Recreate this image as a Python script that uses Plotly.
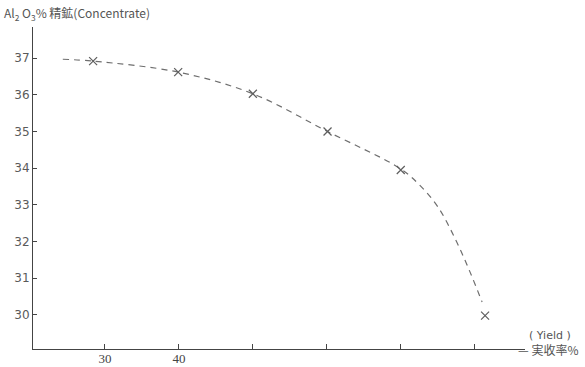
import plotly.graph_objects as go

# Data
yield_pct = [28.4, 39.9, 50.0, 60.1, 70.0, 81.4]
al2o3_pct = [36.92, 36.62, 36.03, 35.0, 33.95, 29.98]

# dashed curve as drawn
curve_x = [24.3, 28.4, 39.9, 50.0, 60.1, 70.0, 72.5, 75.0, 77.3, 79.3, 81.0]
curve_y = [36.97, 36.92, 36.62, 36.03, 35.0, 33.98, 33.55, 32.95, 32.1, 31.2, 30.35]

x_tickvals = [30, 40, 50, 60, 70, 80]
x_ticktext = ["30", "40", "", "", "", ""]
y_tickvals = [30, 31, 32, 33, 34, 35, 36, 37]

gray = "#5a5a5a"

fig = go.Figure()
fig.add_trace(go.Scatter(
    x=curve_x, y=curve_y, mode="lines",
    line=dict(color="#6e6e6e", width=1.2, dash="6px,5px", shape="spline", smoothing=1.0),
    hoverinfo="skip", showlegend=False))
fig.add_trace(go.Scatter(
    x=yield_pct, y=al2o3_pct, mode="markers",
    marker=dict(symbol="x-thin", size=8, line=dict(color="#5e5e5e", width=1.2)),
    showlegend=False))

fig.update_layout(
    width=585, height=367,
    margin=dict(l=33, r=60, t=27, b=18, autoexpand=False),
    paper_bgcolor="white", plot_bgcolor="white",
    xaxis=dict(range=[20.27, 86.8], tickvals=x_tickvals, ticktext=x_ticktext, automargin=False,
               ticks="inside", ticklen=5, tickcolor="#444", showgrid=False, zeroline=False,
               showline=True, linecolor="#444", linewidth=1, ticklabelstandoff=-3,
               tickfont=dict(family="Liberation Serif, serif", size=13, color="#444")),
    yaxis=dict(range=[29.07, 37.85], tickvals=y_tickvals, automargin=False,
               ticks="inside", ticklen=4, tickcolor="#444", showgrid=False, zeroline=False,
               showline=True, linecolor="#444", linewidth=1,
               tickfont=dict(family="DejaVu Sans, sans-serif", size=12, color=gray)),
    annotations=[
        dict(text="Al<sub>2</sub> O<sub>3</sub>% 精鉱(Concentrate)", xref="paper", yref="paper",
             x=-31/492, y=1 + 14/322, xanchor="left", yanchor="middle", showarrow=False,
             font=dict(family="Noto Sans CJK JP, sans-serif", size=12, color="#555")),
        dict(text="( Yield )", xref="paper", yref="paper",
             x=(527 - 33) / 492, y=(349 - 335) / 322, xanchor="left", yanchor="middle", showarrow=False,
             font=dict(family="DejaVu Sans, sans-serif", size=11, color="#555")),
        dict(text="— 実收率%", xref="paper", yref="paper",
             x=(516 - 33) / 492, y=0, xanchor="left", yanchor="middle", showarrow=False,
             font=dict(family="Noto Sans CJK JP, sans-serif", size=12, color="#555")),
    ],
)

fig.write_html("out.html")
